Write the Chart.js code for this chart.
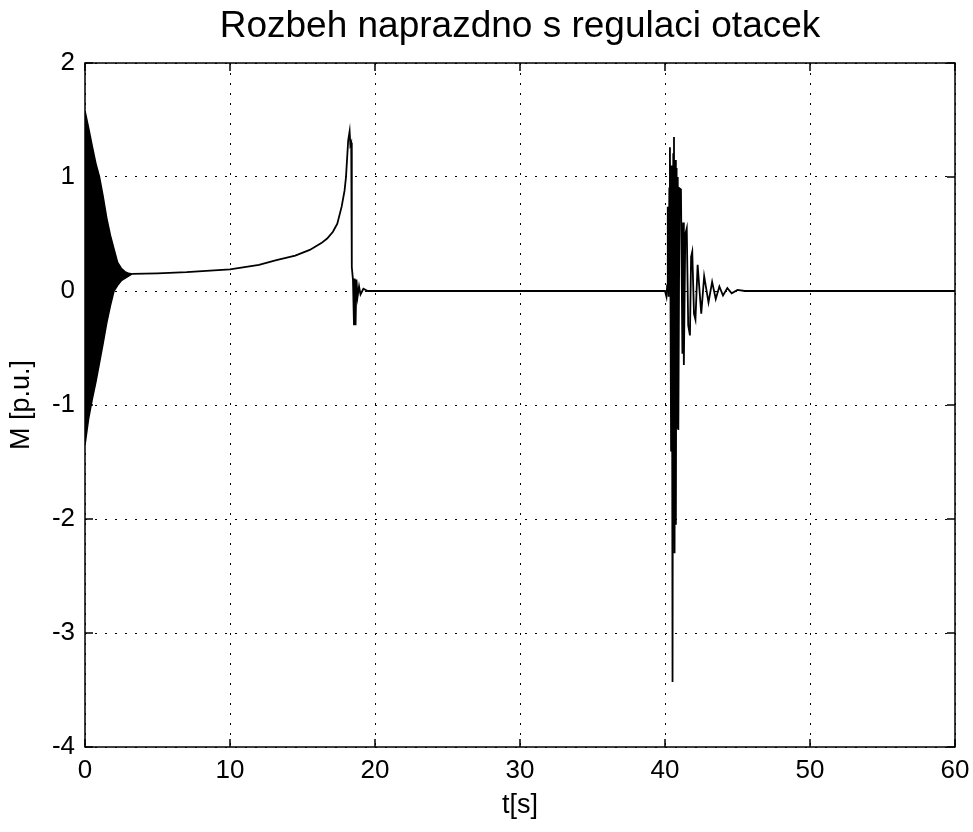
<!DOCTYPE html>
<html>
<head>
<meta charset="utf-8">
<script src="https://cdn.jsdelivr.net/npm/chart.js@4/dist/chart.umd.min.js"></script>
<style>
  html, body { margin: 0; padding: 0; background: #fff; }
  #wrap { width: 973px; height: 832px; position: relative; }
</style>
</head>
<body>
<div id="wrap"><canvas id="chart"></canvas></div>
<script>
// start-up transient (t = 0..3.25 s): drawn as a filled envelope
const envT = [0, 0.25, 0.5, 0.75, 1.0, 1.25, 1.5, 1.75, 2.0, 2.25, 2.5, 2.75, 3.0, 3.25]
const envUpper = [1.58, 1.43, 1.27, 1.12, 1.0, 0.83, 0.64, 0.49, 0.37, 0.25, 0.2, 0.17, 0.155, 0.15]
const envLower = [-1.35, -1.12, -0.95, -0.8, -0.63, -0.46, -0.28, -0.13, 0.0, 0.05, 0.09, 0.11, 0.13, 0.15]

// torque after the start-up transient
const torqueT = [
  3.25, 5, 7, 10, 12, 13.2, 14.5, 15.5, 16.3, 16.7, 17.1, 17.4, 17.7, 17.9, 18.0, 18.15, 18.25,
  18.3, 18.36, 18.4, 18.48, 18.55, 18.6, 18.66, 18.72, 18.8, 18.9, 19.0, 19.2, 19.5,
  40.0, 40.1, 40.15, 40.19, 40.25, 40.3, 40.34, 40.42, 40.47, 40.52, 40.57, 40.62, 40.66, 40.7,
  40.75, 40.8, 40.85, 40.88, 40.92, 41.0, 41.1, 41.2, 41.25, 41.3, 41.4, 41.5, 41.6, 41.72,
  41.8, 41.88, 42.0, 42.1, 42.25, 42.5, 42.7, 43.0, 43.25, 43.5, 43.75, 44.0, 44.3, 44.6, 45.0, 45.5, 60,
]
const torqueM = [
  0.15, 0.155, 0.165, 0.19, 0.23, 0.27, 0.31, 0.36, 0.42, 0.46, 0.52, 0.59, 0.74, 0.88, 1.0, 1.32, 1.4,
  1.28, 1.3, 0.21, 0.1, -0.3, 0.11, -0.3, 0.1, -0.05, 0.04, -0.03, 0.02, 0,
  0, -0.05, 0.05, 0.74, -0.05, 0.9, 1.26, -1.4, 1.1, -3.43, 1.2, 1.35, -2.3, 1.15,
  -2.05, 1.08, -1.2, 1.0, -1.22, 0.9, 0.89, -0.55, 0.6, -0.65, 0.5, 0.55, -0.3, -0.39,
  0.3, 0.345, -0.2, -0.25, 0.23, -0.2, 0.13, -0.1, 0.08, -0.07, 0.04, -0.04, 0.025, -0.02, 0.01, 0, 0,
]

const xTicks = [0, 10, 20, 30, 40, 50, 60]
const yTicks = [-4, -3, -2, -1, 0, 1, 2]

const FONT = '"Liberation Sans", Arial, sans-serif'

const toPoints = (xs, ys) => xs.map((x, i) => ({ x, y: ys[i] }))

// MATLAB style box with inward tick marks
const axesBox = {
  id: 'axesBox',
  afterDraw(chart) {
    const { ctx, chartArea, scales } = chart
    const { left, right, top, bottom } = chartArea
    const len = 8
    ctx.save()
    ctx.strokeStyle = '#000'
    ctx.lineWidth = 1.5
    ctx.beginPath()
    xTicks.forEach((v) => {
      const px = scales.x.getPixelForValue(v)
      ctx.moveTo(px, bottom); ctx.lineTo(px, bottom - len)
      ctx.moveTo(px, top); ctx.lineTo(px, top + len)
    })
    yTicks.forEach((v) => {
      const py = scales.y.getPixelForValue(v)
      ctx.moveTo(left, py); ctx.lineTo(left + len, py)
      ctx.moveTo(right, py); ctx.lineTo(right - len, py)
    })
    ctx.stroke()
    ctx.strokeRect(left, top, right - left, bottom - top)
    ctx.restore()
  },
}

const ctx = document.getElementById('chart').getContext('2d')

new Chart(ctx, {
  type: 'line',
  data: {
    datasets: [
      {
        data: toPoints(envT, envUpper),
        borderColor: '#000',
        borderWidth: 1.5,
        pointRadius: 0,
        fill: false,
      },
      {
        data: toPoints(envT, envLower),
        borderColor: '#000',
        backgroundColor: '#000',
        borderWidth: 1.5,
        pointRadius: 0,
        fill: '-1',
      },
      {
        data: toPoints(torqueT, torqueM),
        borderColor: '#000',
        borderWidth: 1.8,
        pointRadius: 0,
        tension: 0,
        fill: false,
      },
    ],
  },
  options: {
    responsive: true,
    maintainAspectRatio: false,
    animation: false,
    layout: { padding: { left: 0, right: 18, top: 0, bottom: 0 } },
    plugins: {
      legend: { display: false },
      tooltip: { enabled: false },
      title: {
        display: true,
        text: 'Rozbeh naprazdno s regulaci otacek',
        color: '#000',
        fullSize: false,
        font: { family: FONT, size: 37, weight: 'normal' },
        padding: { top: 5, bottom: 13.6 },
      },
    },
    scales: {
      x: {
        type: 'linear',
        min: 0,
        max: 60,
        afterBuildTicks(scale) {
          scale.ticks = xTicks.map((value) => ({ value }))
        },
        afterFit(scale) {
          scale.height = 85
          scale.paddingLeft = 0
          scale.paddingRight = 0
        },
        ticks: {
          color: '#000',
          font: { family: FONT, size: 26 },
          padding: 8,
          maxRotation: 0,
        },
        grid: { color: '#000', lineWidth: 1, drawTicks: false },
        border: { display: false, dash: [2, 8] },
        title: {
          display: true,
          text: 't[s]',
          color: '#000',
          font: { family: FONT, size: 27 },
          padding: { top: 0, bottom: 10 },
        },
      },
      y: {
        type: 'linear',
        min: -4,
        max: 2,
        afterBuildTicks(scale) {
          scale.ticks = yTicks.map((value) => ({ value }))
        },
        afterFit(scale) {
          scale.width = 85
          scale.paddingTop = 0
          scale.paddingBottom = 0
        },
        ticks: {
          color: '#000',
          font: { family: FONT, size: 26 },
          padding: 10,
        },
        grid: { color: '#000', lineWidth: 1, drawTicks: false },
        border: { display: false, dash: [2, 8] },
        title: {
          display: true,
          text: 'M [p.u.]',
          color: '#000',
          font: { family: FONT, size: 27 },
          padding: { top: 5, bottom: 0 },
        },
      },
    },
  },
  plugins: [axesBox],
})
</script>
</body>
</html>
